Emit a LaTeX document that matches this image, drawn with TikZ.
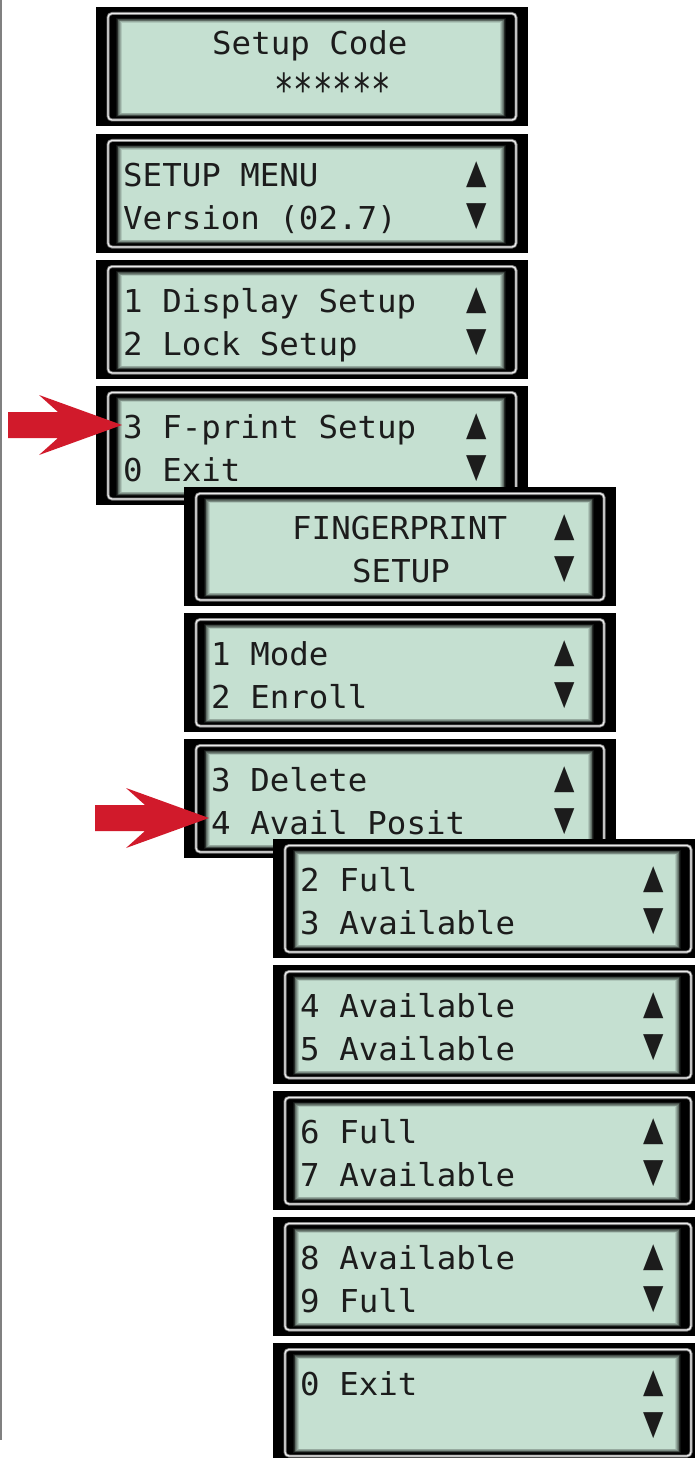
\documentclass[tikz,border=0pt]{standalone}
\usepackage{fontspec}
\newfontfamily\lcdfont[FakeStretch=1.03]{DejaVu Sans Mono}
\newfontfamily\symfont[FakeStretch=0.78]{DejaVu Sans}
\definecolor{lcdgreen}{RGB}{197,224,209}
\definecolor{lcdtext}{RGB}{28,28,28}
\definecolor{arrowred}{RGB}{209,26,43}
\definecolor{rimlight}{RGB}{236,236,236}
\definecolor{rimgray}{RGB}{120,120,120}
\tikzset{
  lcdtxt/.style={anchor=base west, inner sep=0pt, text=lcdtext, font=\lcdfont\fontsize{31.5}{38}\selectfont},
  symtxt/.style={anchor=center, inner sep=0pt, text=lcdtext, font=\symfont\fontsize{34}{40}\selectfont},
  panelbox/.style={anchor=north west, fill=black, draw=none, inner sep=0pt, minimum height=119pt},
  pointer/.style={fill=arrowred, draw=none},
}
% #1 name, #2 x, #3 y, #4 width
\newcommand\lcdpanel[4]{%
  \node[panelbox, minimum width=#4pt] (#1) at (#2,#3) {};
  \draw[rimgray, line width=3pt, rounded corners=4pt] (#2+12,#3+6.5) rectangle (#2+#4-12,#3+113);
  \draw[rimlight, line width=1.3pt, rounded corners=4pt] (#2+12,#3+6.5) rectangle (#2+#4-12,#3+113);
  \foreach \i/\c in {0/8,1/20,2/34,3/48,4/62,5/76,6/89,7/100} {
    \fill[lcdgreen!\c!black] (#2+20+0.8*\i,#3+11+0.7*\i) rectangle (#2+#4-22-0.8*\i,#3+110-0.6*\i);
  }
}
% #1 name, #2 x, #3 y, #4 line1, #5 line2
\newcommand\lcdtexts[5]{%
  \node[lcdtxt] (#1a) at (#2+27,#3+52) {#4};
  \node[lcdtxt] (#1b) at (#2+27,#3+95) {#5};
  \node[symtxt] (#1u) at (#2+381,#3+41) {▲};
  \node[symtxt] (#1d) at (#2+381,#3+83) {▼};
}
\begin{document}
\begin{tikzpicture}[x=1pt,y=-1pt]
\useasboundingbox (0,0) rectangle (695,1458);
\clip (0,0) rectangle (695,1458);
\fill[white] (0,0) rectangle (695,1458);
\draw[gray, line width=1.6pt] (1,0) -- (1,1440);

% column 1
\lcdpanel{p1}{96}{7}{432}
\node[lcdtxt] (p1a) at (212,55) {Setup Code};
\node[lcdtxt] (p1b) at (274,106) {\scalebox{1}[1.4]{******}};
\lcdpanel{p2}{96}{134}{432}
\lcdtexts{p2}{96}{134}{SETUP MENU}{Version (02.7)}
\lcdpanel{p3}{96}{260}{432}
\lcdtexts{p3}{96}{260}{1 Display Setup}{2 Lock Setup}
\lcdpanel{p4}{96}{386}{432}
\lcdtexts{p4}{96}{386}{3 F-print Setup}{0 Exit}

% column 2
\lcdpanel{f1}{184}{487}{432}
\lcdtexts{f1}{184}{487}{\hspace*{81pt}FINGERPRINT}{\hspace*{141pt}SETUP}
\lcdpanel{f2}{184}{613}{432}
\lcdtexts{f2}{184}{613}{1 Mode}{2 Enroll}
\lcdpanel{f3}{184}{739}{432}
\lcdtexts{f3}{184}{739}{3 Delete}{4 Avail Posit}

% column 3
\lcdpanel{g1}{273}{839}{430}
\lcdtexts{g1}{273}{839}{2 Full}{3 Available}
\lcdpanel{g2}{273}{965}{430}
\lcdtexts{g2}{273}{965}{4 Available}{5 Available}
\lcdpanel{g3}{273}{1091}{430}
\lcdtexts{g3}{273}{1091}{6 Full}{7 Available}
\lcdpanel{g4}{273}{1217}{430}
\lcdtexts{g4}{273}{1217}{8 Available}{9 Full}
\lcdpanel{g5}{273}{1343}{430}
\lcdtexts{g5}{273}{1343}{0 Exit}{}

% red pointers
\coordinate (tip1) at (122,425);
\coordinate (tip2) at (209,818);
\fill[pointer] (8,412) -- (58,412) -- (39,395) -- (tip1) -- (39,455) -- (58,438) -- (8,438) -- cycle;
\fill[pointer] (95,805) -- (145,805) -- (126,788) -- (tip2) -- (126,848) -- (145,831) -- (95,831) -- cycle;
\end{tikzpicture}
\end{document}
